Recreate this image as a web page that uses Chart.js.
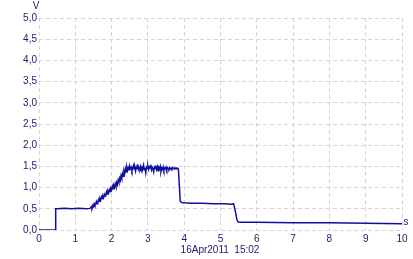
<!DOCTYPE html>
<html>
<head>
<meta charset="utf-8">
<script src="https://cdn.jsdelivr.net/npm/chart.js@4.4.1/dist/chart.umd.min.js"></script>
<style>
  html, body { margin: 0; padding: 0; background: #ffffff; }
  #wrap { width: 413px; height: 259px; }
</style>
</head>
<body>
<div id="wrap"><canvas id="scopeChart" width="413" height="259"></canvas></div>
<script>
const times = [
    0, 0.46, 0.46, 0.50, 0.70, 0.90, 1.10, 1.30, 1.40,
    1.42, 1.44, 1.46, 1.48, 1.50, 1.52, 1.54, 1.56, 1.58, 1.60,
    1.62, 1.64, 1.66, 1.68, 1.70, 1.72, 1.74, 1.76, 1.78, 1.80,
    1.82, 1.84, 1.86, 1.88, 1.90, 1.92, 1.94, 1.96, 1.98, 2.00,
    2.02, 2.04, 2.06, 2.08, 2.10, 2.12, 2.14, 2.16, 2.18, 2.20,
    2.22, 2.24, 2.26, 2.28, 2.30, 2.32, 2.34, 2.36, 2.38, 2.40,
    2.42, 2.44,
    2.46, 2.48, 2.50, 2.52, 2.54, 2.56, 2.58, 2.60, 2.62, 2.64,
    2.66, 2.68, 2.70, 2.72, 2.74, 2.76, 2.78, 2.80, 2.82, 2.84,
    2.86, 2.88, 2.90, 2.92, 2.94, 2.96, 2.98, 3.00, 3.02, 3.04,
    3.06, 3.08, 3.10, 3.12, 3.14, 3.16, 3.18, 3.20, 3.22, 3.24,
    3.26, 3.28, 3.30, 3.32, 3.34, 3.36, 3.38, 3.40, 3.42, 3.44,
    3.46, 3.48, 3.50, 3.52, 3.54, 3.56, 3.58, 3.60, 3.62, 3.64,
    3.66, 3.68, 3.70, 3.72, 3.74, 3.76, 3.78, 3.80, 3.82, 3.84,
    3.87, 3.89, 3.93, 4.00, 4.20, 4.50, 4.80, 5.10, 5.30, 5.36,
    5.38, 5.42, 5.45, 5.48, 5.52, 6.00, 7.00, 8.00, 9.00, 10.00
];
const volts = [
    0, 0, 0.50, 0.50, 0.51, 0.50, 0.51, 0.50, 0.51,
    0.52, 0.55, 0.52, 0.58, 0.55, 0.62, 0.58, 0.60, 0.67, 0.62,
    0.66, 0.72, 0.68, 0.74, 0.70, 0.78, 0.74, 0.80, 0.76, 0.84,
    0.80, 0.83, 0.90, 0.85, 0.92, 0.88, 0.95, 0.91, 0.98, 0.95,
    1.03, 0.97, 1.05, 1.01, 1.09, 1.03, 1.12, 1.07, 1.17, 1.12,
    1.22, 1.17, 1.28, 1.22, 1.33, 1.27, 1.39, 1.33, 1.44, 1.37,
    1.48, 1.41,
    1.47, 1.42, 1.50, 1.45, 1.48, 1.40, 1.46, 1.52, 1.44, 1.47,
    1.39, 1.49, 1.45, 1.55, 1.43, 1.47, 1.44, 1.50, 1.41, 1.48,
    1.46, 1.53, 1.42, 1.47, 1.35, 1.48, 1.45, 1.51, 1.43, 1.49,
    1.46, 1.54, 1.42, 1.47, 1.44, 1.37, 1.48, 1.45, 1.52, 1.43,
    1.49, 1.40, 1.47, 1.44, 1.50, 1.38, 1.46, 1.43, 1.49, 1.41,
    1.46, 1.44, 1.48, 1.42, 1.47, 1.45, 1.43, 1.47, 1.44, 1.46,
    1.44, 1.47, 1.45, 1.44, 1.46, 1.45, 1.46, 1.45, 1.46, 1.44,
    1.00, 0.68, 0.65, 0.64, 0.63, 0.63, 0.62, 0.62, 0.61, 0.62,
    0.55, 0.40, 0.25, 0.19, 0.18, 0.18, 0.17, 0.17, 0.16, 0.15
];

const xTickLabels = ["0", "1", "2", "3", "4", "5", "6", "7", "8", "9", "10"];
const yTickLabels = ["0,0", "0,5", "1,0", "1,5", "2,0", "2,5", "3,0", "3,5", "4,0", "4,5", "5,0"];

const yUnit = "V";
const xUnit = "s";
const stamp = "16Apr2011  15:02";

const textColor = "#1a1a70";
const gridColor = "#d4d4d4";
const fontSpec = { family: "Liberation Sans", size: 10 };

// ---------------- extra labels ----------------

const unitLabels = {
    id: "unitLabels",
    afterDraw(chart) {
        const ctx = chart.ctx;
        ctx.save();
        ctx.fillStyle = textColor;
        ctx.font = "10px 'Liberation Sans'";
        ctx.textAlign = "center";
        ctx.textBaseline = "middle";
        ctx.fillText(yUnit, 36, 6);
        ctx.fillText(xUnit, 406, 222);
        ctx.fillText(stamp, 220, 250);
        ctx.restore();
    }
};

// ---------------- LINE CHART ----------------

const canvas = document.getElementById("scopeChart");

new Chart(canvas, {
    type: "line",

    data: {
        datasets: [{
            data: times.map((t, i) => ({ x: t, y: volts[i] })),
            borderColor: "#1010a0",
            borderWidth: 1.5,
            pointRadius: 0,
            tension: 0,
            fill: false
        }]
    },

    options: {
        responsive: false,
        animation: false,
        devicePixelRatio: 1,
        layout: {
            padding: { top: 18, right: 11, left: 0, bottom: 0 }
        },
        plugins: {
            legend: { display: false },
            tooltip: { enabled: false }
        },
        scales: {
            x: {
                type: "linear",
                min: 0,
                max: 10,
                afterFit(scale) { scale.height = 29; },
                border: { display: false, dash: [4, 3] },
                grid: {
                    color: gridColor,
                    drawTicks: false
                },
                ticks: {
                    stepSize: 1,
                    padding: 3,
                    color: textColor,
                    font: fontSpec,
                    maxRotation: 0,
                    callback: (v, i) => xTickLabels[i]
                }
            },
            y: {
                min: 0,
                max: 5,
                afterFit(scale) { scale.width = 39; },
                border: { display: false, dash: [4, 3] },
                grid: {
                    color: gridColor,
                    drawTicks: false
                },
                ticks: {
                    stepSize: 0.5,
                    padding: 2,
                    color: textColor,
                    font: fontSpec,
                    callback: (v, i) => yTickLabels[i]
                }
            }
        }
    },

    plugins: [unitLabels]
});
</script>
</body>
</html>
